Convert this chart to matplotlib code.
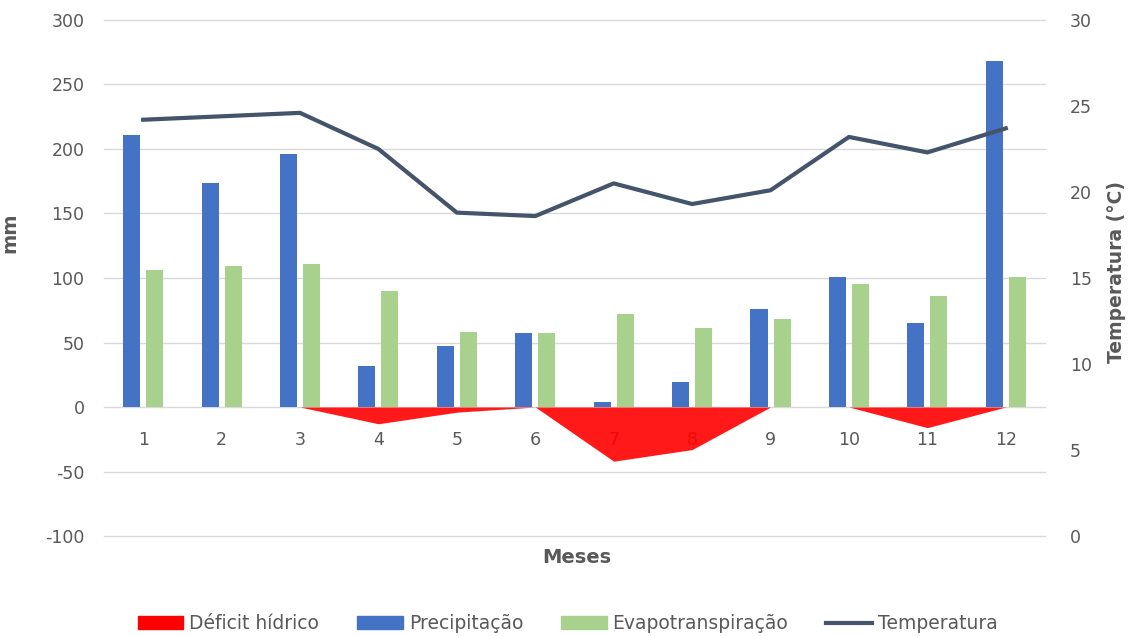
import matplotlib
matplotlib.use("Agg")
import matplotlib.pyplot as plt
import numpy as np
from matplotlib.patches import Patch
from matplotlib.lines import Line2D

plt.rcParams['font.family'] = ['DejaVu Sans']
plt.rcParams['axes.unicode_minus'] = False

# monthly water balance
meses = [1, 2, 3, 4, 5, 6, 7, 8, 9, 10, 11, 12]
precipitacao = [211, 174, 196, 32, 47, 57, 4, 19, 76, 101, 65, 268]
evapotranspiracao = [106, 109, 111, 90, 58, 57, 72, 61, 68, 95, 86, 101]
deficit = [0, 0, 0, -13, -4, 0, -42, -33, 0, 0, -16, 0]
temperatura = [24.2, 24.4, 24.6, 22.5, 18.8, 18.6, 20.5, 19.3, 20.1, 23.2, 22.3, 23.7]

c_def = '#FF0000'
c_prec = '#4472C4'
c_evap = '#A9D18E'
c_temp = '#44546A'
c_txt = '#595959'

fig = plt.figure(figsize=(11.36, 6.36), dpi=100)
ax = fig.add_axes([0.0915, 0.1572, 0.8284, 0.8114])
ax2 = ax.twinx()

x = np.array(meses)
w = 0.217
off = 0.147

ax.set_xlim(0.5, 12.5)
ax.set_ylim(-100, 300)
ax2.set_ylim(0, 30)

# gridlines
ax.set_yticks(np.arange(-100, 301, 50))
ax.grid(axis='y', color='#D9D9D9', linewidth=1, zorder=0)
ax.set_axisbelow(True)
for gl in ax.get_ygridlines():
    gl.set_clip_on(False)

ax.bar(x - off, precipitacao, width=w, color=c_prec, zorder=3)
ax.bar(x + off, evapotranspiracao, width=w, color=c_evap, zorder=3)

# month labels sit just under the zero line
for m in meses:
    ax.annotate(str(m), (m, 0), xytext=(0, -33), textcoords='offset pixels',
                ha='center', va='center', fontsize=12.5, color=c_txt, zorder=4)

ax.fill_between(x, deficit, 0, color=c_def, alpha=0.9, linewidth=0, zorder=5)

ax2.plot(x, temperatura, color=c_temp, linewidth=3, zorder=6)

ax.set_xticks([])
for a in (ax, ax2):
    for s in a.spines.values():
        s.set_visible(False)
ax.tick_params(axis='y', length=0, pad=14, labelsize=12.5, labelcolor=c_txt)
ax2.set_yticks(np.arange(0, 31, 5))
ax2.tick_params(axis='y', length=0, pad=18, labelsize=12.5, labelcolor=c_txt)

ax.set_ylabel('mm', fontsize=14, fontweight='bold', color=c_txt)
ax.yaxis.set_label_coords(-0.0903, 0.587)
ax2.set_ylabel('Temperatura (°C)', fontsize=13.5, fontweight='bold', color=c_txt)
ax2.yaxis.set_label_coords(1.066, 0.512)
ax.text(0.5027, -0.041, 'Meses', transform=ax.transAxes, ha='center', va='center',
        fontsize=14, fontweight='bold', color=c_txt)

handles = [Patch(color=c_def), Patch(color=c_prec), Patch(color=c_evap),
           Line2D([0], [0], color=c_temp, linewidth=3)]
labels = ['Déficit hídrico', 'Precipitação', 'Evapotranspiração', 'Temperatura']
leg = fig.legend(handles, labels, loc='center', bbox_to_anchor=(0.4996, 0.019), ncol=4,
                 frameon=False, fontsize=13.5, handlelength=2.45, handleheight=0.7,
                 handletextpad=0.32, columnspacing=2.0, borderpad=0)
for t in leg.get_texts():
    t.set_color(c_txt)

fig.savefig('out.png', dpi=100)
